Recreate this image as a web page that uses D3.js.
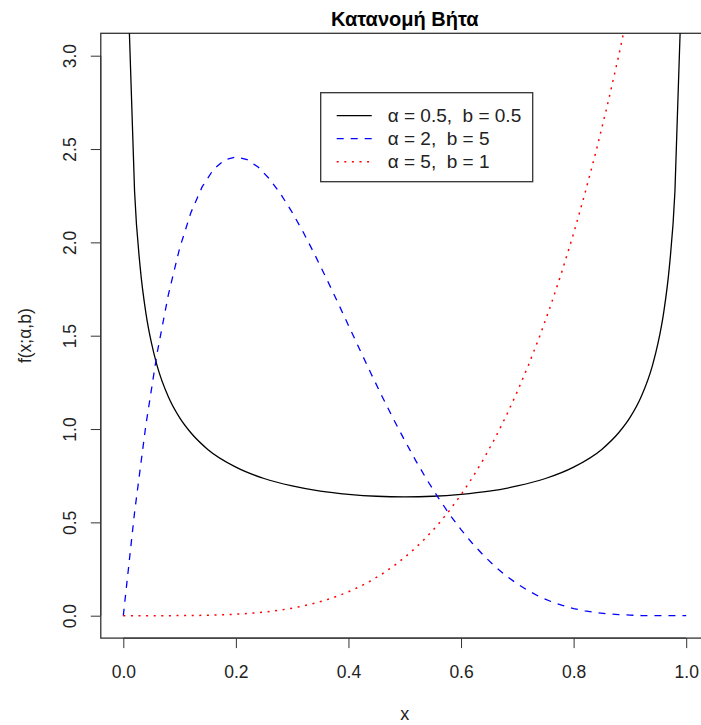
<!DOCTYPE html>
<html>
<head>
<meta charset="utf-8">
<script src="https://cdn.jsdelivr.net/npm/d3@7"></script>
<style>
  body { margin: 0; background: #fff; }
  svg { font-family: "Liberation Sans", Arial, sans-serif; }
</style>
</head>
<body>
<svg id="chart" width="701" height="725"></svg>
<script>
// x grid shared by the two smooth curves
const xs = [0, 0.02, 0.04, 0.06, 0.08, 0.10, 0.12, 0.14, 0.16, 0.18, 0.20, 0.22, 0.24,
  0.26, 0.28, 0.30, 0.32, 0.34, 0.36, 0.38, 0.40, 0.42, 0.44, 0.46, 0.48, 0.50,
  0.52, 0.54, 0.56, 0.58, 0.60, 0.62, 0.64, 0.66, 0.68, 0.70, 0.72, 0.74, 0.76,
  0.78, 0.80, 0.82, 0.84, 0.86, 0.88, 0.90, 0.92, 0.94, 0.96, 0.98, 1.00];

// α = 2, b = 5
const blueVals = [0, 0.553, 1.019, 1.405, 1.719, 1.968, 2.159, 2.297, 2.390, 2.442, 2.458,
  2.443, 2.402, 2.339, 2.257, 2.161, 2.053, 1.935, 1.812, 1.685, 1.555, 1.426,
  1.298, 1.173, 1.053, 0.938, 0.828, 0.725, 0.630, 0.541, 0.461, 0.388, 0.323,
  0.265, 0.214, 0.170, 0.133, 0.101, 0.076, 0.055, 0.038, 0.026, 0.017, 0.010,
  0.006, 0.003, 0.001, 0.0004, 0.0001, 0, 0];

// α = 5, b = 1 (leaves the top of the panel near x = 0.89)
const redVals = [0, 0, 0, 0.0001, 0.0002, 0.0005, 0.0010, 0.0019, 0.0033, 0.0052, 0.008,
  0.0117, 0.0166, 0.0228, 0.0307, 0.0405, 0.0524, 0.0668, 0.084, 0.1043, 0.128,
  0.1556, 0.1874, 0.2239, 0.2654, 0.3125, 0.3656, 0.4252, 0.4917, 0.5658, 0.648,
  0.7388, 0.8389, 0.9487, 1.069, 1.2005, 1.3437, 1.4993, 1.6681, 1.8508, 2.048,
  2.2606, 2.4893, 2.7351, 2.9985, 3.2805, 3.58, 3.904, 4.247, 4.611, 5.0];

// α = 0.5, b = 0.5 (U shape, undefined at the ends)
const blackX = [0.01, 0.02, 0.03, 0.04, 0.05, 0.06, 0.08, 0.10, 0.12, 0.15, 0.20, 0.25,
  0.30, 0.35, 0.40, 0.45, 0.50, 0.55, 0.60, 0.65, 0.70, 0.75, 0.80, 0.85, 0.88,
  0.90, 0.92, 0.94, 0.95, 0.96, 0.97, 0.98, 0.99];
const blackVals = [3.199, 2.274, 1.866, 1.624, 1.461, 1.340, 1.173, 1.061, 0.980, 0.891,
  0.796, 0.735, 0.695, 0.667, 0.650, 0.640, 0.637, 0.640, 0.650, 0.667, 0.695,
  0.735, 0.796, 0.891, 0.980, 1.061, 1.173, 1.340, 1.461, 1.624, 1.866, 2.274, 3.199];

const xTicks = [0, 0.2, 0.4, 0.6, 0.8, 1.0];
const yTicks = [0, 0.5, 1.0, 1.5, 2.0, 2.5, 3.0];
const legendLabels = ["α = 0.5,  b = 0.5", "α = 2,  b = 5", "α = 5,  b = 1"];

const svg = d3.select("#chart");

const x = d3.scaleLinear().domain([0, 1]).range([123.3, 686.2]);
const y = d3.scaleLinear().domain([0, 3]).range([615.7, 55.7]);

// R pads the data range by 4% on each side
const pLeft = x(-0.04), pRight = x(1.04), pTop = y(3.12), pBottom = y(-0.12);

svg.append("defs").append("clipPath").attr("id", "plotclip")
  .append("rect")
  .attr("x", pLeft).attr("y", pTop)
  .attr("width", pRight - pLeft).attr("height", pBottom - pTop);

// x axis
const xAxis = svg.append("g")
  .attr("transform", `translate(0,${pBottom})`)
  .call(d3.axisBottom(x).tickValues(xTicks).tickFormat(d3.format(".1f")).tickSize(10).tickPadding(17));
xAxis.select(".domain").attr("stroke", "#333").attr("d", `M${x(0)},0H${x(1)}`);
xAxis.selectAll(".tick line").attr("stroke", "#333");
xAxis.selectAll("text").attr("font-size", 17.5).attr("fill", "#222");
xAxis.attr("font-family", null);

// y axis, labels turned like R's las = 0
const yAxis = svg.append("g")
  .attr("transform", `translate(${pLeft},0)`)
  .call(d3.axisLeft(y).tickValues(yTicks).tickFormat(d3.format(".1f")).tickSize(10));
yAxis.attr("font-family", null);
yAxis.select(".domain").attr("stroke", "#333").attr("d", `M0,${y(0)}V${y(3)}`);
yAxis.selectAll(".tick line").attr("stroke", "#333");
yAxis.selectAll("text")
  .attr("font-size", 17.5).attr("fill", "#222")
  .attr("x", null).attr("dy", null)
  .attr("text-anchor", "middle")
  .attr("transform", "translate(-25,0) rotate(-90)");

// frame
svg.append("rect")
  .attr("x", pLeft).attr("y", pTop)
  .attr("width", pRight - pLeft).attr("height", pBottom - pTop)
  .attr("fill", "none").attr("stroke", "#333").attr("stroke-width", 1.3);

const plot = svg.append("g").attr("clip-path", "url(#plotclip)");

const line = d3.line().x(d => x(d[0])).y(d => y(d[1]));

plot.append("path")
  .datum(d3.zip(blackX, blackVals))
  .attr("d", line.curve(d3.curveMonotoneX))
  .attr("fill", "none").attr("stroke", "#000").attr("stroke-width", 1.3);

plot.append("path")
  .datum(d3.zip(xs, blueVals))
  .attr("d", line.curve(d3.curveLinear))
  .attr("fill", "none").attr("stroke", "#0000ff").attr("stroke-width", 1.3)
  .attr("stroke-dasharray", "7,7");

plot.append("path")
  .datum(d3.zip(xs, redVals))
  .attr("d", line.curve(d3.curveLinear))
  .attr("fill", "none").attr("stroke", "#ff0000").attr("stroke-width", 1.5)
  .attr("stroke-dasharray", "2,5.6");

// legend
const legend = svg.append("g").attr("transform", "translate(320.7,92.7)");
legend.append("rect")
  .attr("width", 212).attr("height", 89)
  .attr("fill", "#fff").attr("stroke", "#333").attr("stroke-width", 1.3);
const styles = [
  { color: "#000", dash: null, w: 1.3 },
  { color: "#0000ff", dash: "7,7", w: 1.3 },
  { color: "#ff0000", dash: "2,5.6", w: 1.5 }
];
legendLabels.forEach((lab, i) => {
  const yy = 23 + i * 23;
  legend.append("line")
    .attr("x1", 16).attr("x2", 51).attr("y1", yy).attr("y2", yy)
    .attr("stroke", styles[i].color).attr("stroke-width", styles[i].w)
    .attr("stroke-dasharray", styles[i].dash);
  legend.append("text")
    .attr("x", 67).attr("y", yy).attr("dy", "0.35em")
    .attr("font-size", 19).attr("fill", "#222")
    .style("white-space", "pre")
    .text(lab);
});

// titles
svg.append("text")
  .attr("x", (pLeft + pRight) / 2).attr("y", 26)
  .attr("text-anchor", "middle").attr("font-size", 20).attr("font-weight", "bold")
  .text("Κατανομή Βήτα");

svg.append("text")
  .attr("x", (pLeft + pRight) / 2).attr("y", 720)
  .attr("text-anchor", "middle").attr("font-size", 18).attr("fill", "#222")
  .text("x");

svg.append("text")
  .attr("transform", `translate(31,${(pTop + pBottom) / 2}) rotate(-90)`)
  .attr("text-anchor", "middle").attr("font-size", 17.5).attr("fill", "#222")
  .text("f(x;α,b)");
</script>
</body>
</html>
